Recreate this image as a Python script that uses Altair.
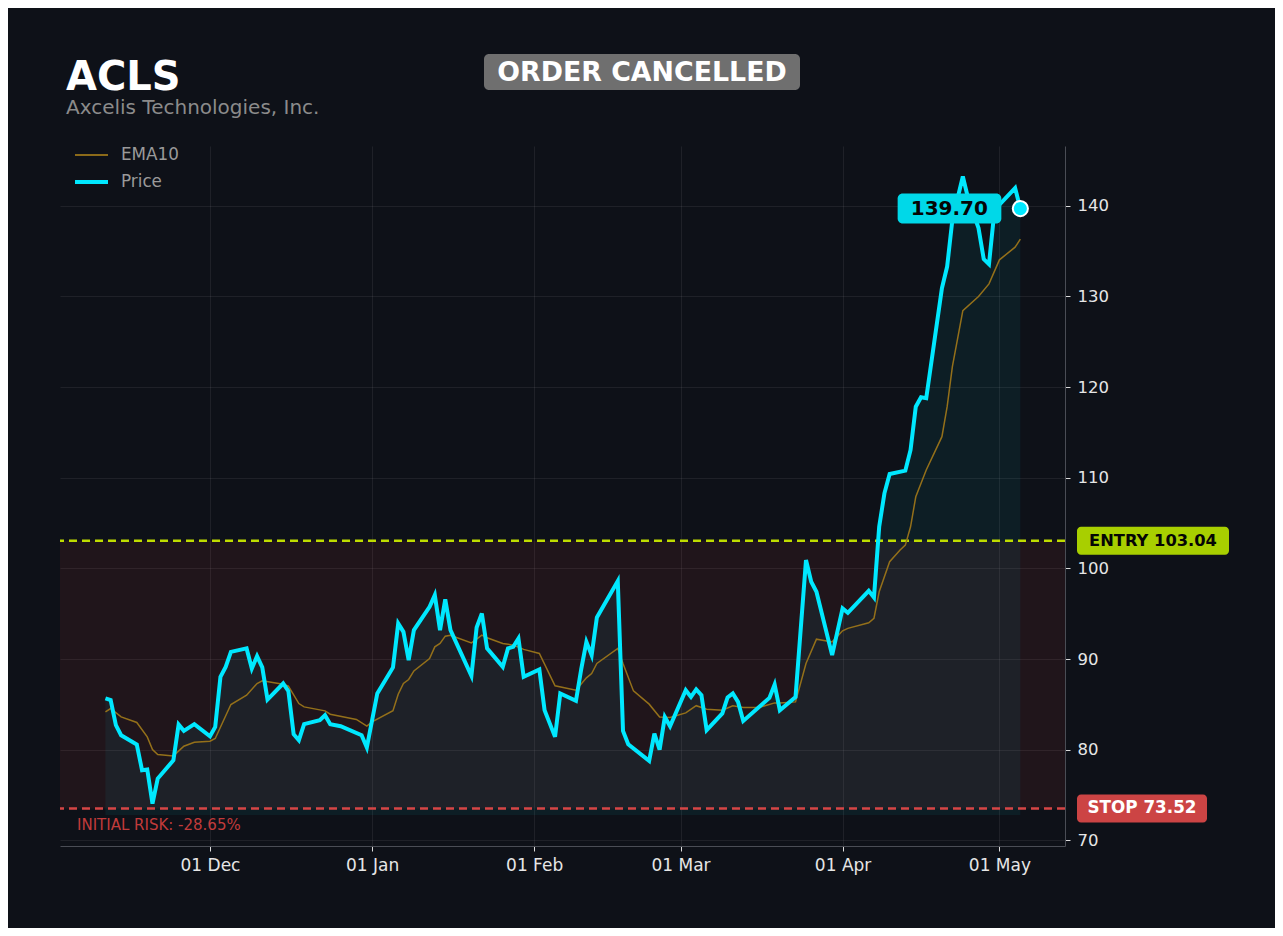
import altair as alt
import pandas as pd

# ---------------- data ----------------
TICKER = "ACLS"
COMPANY = "Axcelis Technologies, Inc."
STATUS = "ORDER CANCELLED"
ENTRY = 103.04
STOP = 73.52
AREA_FLOOR = 72.8

price_dates = [
    "2024-11-11", "2024-11-12", "2024-11-13", "2024-11-14", "2024-11-17", "2024-11-18",
    "2024-11-19", "2024-11-20", "2024-11-21", "2024-11-24", "2024-11-25", "2024-11-26",
    "2024-11-28", "2024-12-01", "2024-12-02", "2024-12-03", "2024-12-04", "2024-12-05",
    "2024-12-08", "2024-12-09", "2024-12-10", "2024-12-11", "2024-12-12", "2024-12-15",
    "2024-12-16", "2024-12-17", "2024-12-18", "2024-12-19", "2024-12-22", "2024-12-23",
    "2024-12-24", "2024-12-26", "2024-12-30", "2024-12-31", "2025-01-02", "2025-01-05",
    "2025-01-06", "2025-01-07", "2025-01-08", "2025-01-09", "2025-01-12", "2025-01-13",
    "2025-01-14", "2025-01-15", "2025-01-16", "2025-01-20", "2025-01-21", "2025-01-22",
    "2025-01-23", "2025-01-26", "2025-01-27", "2025-01-28", "2025-01-29", "2025-01-30",
    "2025-02-02", "2025-02-03", "2025-02-05", "2025-02-06", "2025-02-09", "2025-02-10",
    "2025-02-11", "2025-02-12", "2025-02-13", "2025-02-17", "2025-02-18", "2025-02-19",
    "2025-02-23", "2025-02-24", "2025-02-25", "2025-02-26", "2025-02-27", "2025-03-02",
    "2025-03-03", "2025-03-04", "2025-03-05", "2025-03-06", "2025-03-09", "2025-03-10",
    "2025-03-11", "2025-03-12", "2025-03-13", "2025-03-18", "2025-03-19", "2025-03-20",
    "2025-03-23", "2025-03-25", "2025-03-26", "2025-03-27", "2025-03-30", "2025-04-01",
    "2025-04-02", "2025-04-06", "2025-04-07", "2025-04-08", "2025-04-09", "2025-04-10",
    "2025-04-13", "2025-04-14", "2025-04-15", "2025-04-16", "2025-04-17", "2025-04-20",
    "2025-04-21", "2025-04-22", "2025-04-24", "2025-04-25", "2025-04-27", "2025-04-28",
    "2025-04-29", "2025-04-30", "2025-05-01", "2025-05-04", "2025-05-05",
]
price_values = [
    85.65, 85.46, 82.70, 81.59, 80.57, 77.73,
    77.81, 74.05, 76.81, 78.83, 82.77, 82.07,
    82.81, 81.48, 82.51, 88.03, 89.13, 90.79,
    91.17, 88.96, 90.32, 89.07, 85.53, 87.30,
    86.45, 81.70, 81.04, 82.81, 83.25, 83.80,
    82.81, 82.59, 81.59, 80.24, 86.20, 89.07,
    93.93, 93.00, 89.87, 93.19, 95.76, 97.05,
    93.19, 96.58, 93.19, 88.14, 93.48, 95.03,
    91.17, 89.13, 91.17, 91.34, 92.27, 88.03,
    88.85, 84.35, 81.41, 86.20, 85.38, 88.85,
    91.89, 90.43, 94.59, 98.60, 82.07, 80.60,
    78.76, 81.78, 80.01, 83.61, 82.59, 86.56,
    85.82, 86.64, 86.01, 82.15, 83.99, 85.76,
    86.20, 85.27, 83.17, 85.71, 87.19, 84.35,
    85.82, 100.92, 98.52, 97.42, 90.43, 95.58,
    95.10, 97.53, 96.80, 104.59, 108.28, 110.41,
    110.78, 113.06, 117.84, 118.88, 118.77, 130.91,
    133.30, 138.45, 143.24, 140.85, 137.54, 134.12,
    133.56, 139.19, 140.12, 141.96, 139.70,
]

ema_dates = [
    "2024-11-11", "2024-11-12", "2024-11-14", "2024-11-17", "2024-11-19", "2024-11-20",
    "2024-11-21", "2024-11-24", "2024-11-26", "2024-11-28", "2024-12-01", "2024-12-02",
    "2024-12-05", "2024-12-08", "2024-12-10", "2024-12-11", "2024-12-15", "2024-12-16",
    "2024-12-18", "2024-12-19", "2024-12-23", "2024-12-24", "2024-12-29", "2024-12-31",
    "2025-01-01", "2025-01-05", "2025-01-06", "2025-01-07", "2025-01-08", "2025-01-09",
    "2025-01-12", "2025-01-13", "2025-01-14", "2025-01-15", "2025-01-16", "2025-01-20",
    "2025-01-21", "2025-01-22", "2025-01-23", "2025-01-26", "2025-01-28", "2025-01-30",
    "2025-02-02", "2025-02-05", "2025-02-09", "2025-02-11", "2025-02-12", "2025-02-13",
    "2025-02-17", "2025-02-18", "2025-02-20", "2025-02-23", "2025-02-25", "2025-02-27",
    "2025-03-02", "2025-03-04", "2025-03-06", "2025-03-09", "2025-03-11", "2025-03-13",
    "2025-03-16", "2025-03-19", "2025-03-20", "2025-03-23", "2025-03-25", "2025-03-27",
    "2025-03-30", "2025-04-01", "2025-04-02", "2025-04-06", "2025-04-07", "2025-04-08",
    "2025-04-10", "2025-04-12", "2025-04-13", "2025-04-14", "2025-04-15", "2025-04-17",
    "2025-04-20", "2025-04-21", "2025-04-22", "2025-04-24", "2025-04-27", "2025-04-29",
    "2025-05-01", "2025-05-04", "2025-05-05",
]
ema_values = [
    84.17, 84.54, 83.61, 83.00, 81.41, 80.01,
    79.46, 79.31, 80.38, 80.82, 80.93, 81.23,
    84.98, 86.01, 87.30, 87.59, 87.22, 87.00,
    85.09, 84.72, 84.28, 83.91, 83.33, 82.59,
    83.06, 84.30, 86.12, 87.30, 87.74, 88.69,
    90.06, 91.34, 91.72, 92.52, 92.63, 91.78,
    92.19, 92.63, 92.34, 91.72, 91.53, 91.06,
    90.61, 87.04, 86.56, 87.92, 88.40, 89.51,
    91.17, 89.51, 86.48, 85.02, 83.61, 83.55,
    84.06, 84.85, 84.46, 84.35, 84.83, 84.65,
    84.65, 85.16, 85.16, 85.27, 89.51, 92.19,
    91.89, 93.11, 93.38, 93.99, 94.48, 97.42,
    100.73, 102.02, 102.57, 104.59, 107.90, 110.85,
    114.53, 117.84, 122.26, 128.44, 129.99, 131.39,
    134.04, 135.44, 136.32,
]

legend_labels = ["EMA10", "Price"]
y_ticks = [70, 80, 90, 100, 110, 120, 130, 140]
x_tick_dates = ["2024-12-01", "2025-01-01", "2025-02-01", "2025-03-01", "2025-04-01", "2025-05-01"]
x_domain_dates = ["2024-11-02T07:26:00Z", "2025-05-13T13:00:00Z"]
y_domain = [69.37, 146.6]

# ---------------- style ----------------
FONT = "DejaVu Sans"
BG = "#0e1118"
CYAN = "#00e8ff"
EMA_COLOR = "#94701a"
ENTRY_COLOR = "#bfdc00"
ENTRY_BADGE = "#a8cf00"
STOP_COLOR = "#d64545"
STOP_BADGE = "#cc4444"
PLOT_W, PLOT_H = 1005, 700


def ms(s):
    return int(pd.Timestamp(s, tz="UTC").value // 10**6)


price_df = pd.DataFrame({"date": price_dates, "price": price_values})
price_df["floor"] = AREA_FLOOR
ema_df = pd.DataFrame({"date": ema_dates, "ema": ema_values})
last_df = pd.DataFrame({
    "date": [price_dates[-1]],
    "price": [price_values[-1]],
    "label": [f"{price_values[-1]:.2f}"],
})
entry_df = pd.DataFrame({"level": [ENTRY], "label": [f"ENTRY {ENTRY:.2f}"]})
stop_df = pd.DataFrame({
    "level": [STOP],
    "label": [f"STOP {STOP:.2f}"],
    "risk": [f"INITIAL RISK: {(STOP - ENTRY) / ENTRY * 100:.2f}%"],
})
zone_df = pd.DataFrame({"lo": [STOP], "hi": [ENTRY]})
head_df = pd.DataFrame({"ticker": [TICKER], "company": [COMPANY], "status": [STATUS]})
leg_df = pd.DataFrame({"label": legend_labels})

x_axis = alt.Axis(
    values=[ms(d) for d in x_tick_dates], format="%d %b", title=None,
    labelFontSize=17, labelPadding=6, tickSize=5, grid=True,
)
x_scale = alt.Scale(type="utc", domain=[ms(d) for d in x_domain_dates])
x_enc = alt.X("date:T", scale=x_scale, axis=x_axis)

y_axis = alt.Axis(orient="right", values=y_ticks, title=None,
                  labelFontSize=16.5, labelPadding=7, tickSize=5, grid=True)
y_scale = alt.Scale(domain=y_domain, nice=False, zero=False)


def y_enc(field):
    return alt.Y(f"{field}:Q", scale=y_scale, axis=y_axis)


zone = alt.Chart(zone_df).mark_rect(color="#e04040", opacity=0.09).encode(
    x=alt.value(0), x2=alt.value(PLOT_W), y=y_enc("hi"), y2="lo:Q"
)
area = alt.Chart(price_df).mark_area(color=CYAN, opacity=0.06).encode(
    x=x_enc, y=y_enc("price"), y2="floor:Q"
)
entry_line = alt.Chart(entry_df).mark_rule(
    color=ENTRY_COLOR, strokeWidth=2.5, strokeDash=[8, 5]
).encode(y=y_enc("level"))
stop_line = alt.Chart(stop_df).mark_rule(
    color=STOP_COLOR, strokeWidth=2.5, strokeDash=[8, 5]
).encode(y=y_enc("level"))
ema_line = alt.Chart(ema_df).mark_line(color=EMA_COLOR, strokeWidth=1.5).encode(
    x=x_enc, y=y_enc("ema")
)
price_line = alt.Chart(price_df).mark_line(color=CYAN, strokeWidth=4).encode(
    x=x_enc, y=y_enc("price")
)
end_dot = alt.Chart(last_df).mark_circle(
    size=230, fill=CYAN, stroke="white", strokeWidth=2, opacity=1
).encode(x=x_enc, y=y_enc("price"))
price_badge = alt.Chart(last_df).mark_rect(
    fill="#00d8e8", cornerRadius=5, xOffset=-122.7, x2Offset=-19, yOffset=-15, y2Offset=15
).encode(x=x_enc, x2="date:T", y=y_enc("price"), y2="price:Q")
price_text = alt.Chart(last_df).mark_text(
    font=FONT, fontSize=20, fontWeight="bold", color="#050505", dx=-71,
    align="center", baseline="middle"
).encode(x=x_enc, y=y_enc("price"), text="label:N")

entry_badge = alt.Chart(entry_df).mark_rect(
    fill=ENTRY_BADGE, cornerRadius=4, yOffset=-14, y2Offset=14
).encode(x=alt.value(1017), x2=alt.value(1169), y=y_enc("level"), y2="level:Q")
entry_text = alt.Chart(entry_df).mark_text(
    font=FONT, fontSize=16.3, fontWeight="bold", color="#050505",
    align="center", baseline="middle"
).encode(x=alt.value(1093), y=y_enc("level"), text="label:N")
stop_badge = alt.Chart(stop_df).mark_rect(
    fill=STOP_BADGE, cornerRadius=4, yOffset=-14, y2Offset=14
).encode(x=alt.value(1017), x2=alt.value(1147), y=y_enc("level"), y2="level:Q")
stop_text = alt.Chart(stop_df).mark_text(
    font=FONT, fontSize=16.8, fontWeight="bold", color="white",
    align="center", baseline="middle"
).encode(x=alt.value(1082), y=y_enc("level"), text="label:N")
risk_text = alt.Chart(stop_df).mark_text(
    font=FONT, fontSize=15, color="#c13b3b", align="left", baseline="middle", dy=17
).encode(x=alt.value(17), y=y_enc("level"), text="risk:N")

title_text = alt.Chart(head_df).mark_text(
    font=FONT, fontSize=40, fontWeight="bold", color="white",
    align="left", baseline="alphabetic"
).encode(x=alt.value(6), y=alt.value(-56), text="ticker:N")
sub_text = alt.Chart(head_df).mark_text(
    font=FONT, fontSize=20, color="#8b8b8b", align="left", baseline="alphabetic"
).encode(x=alt.value(6), y=alt.value(-32), text="company:N")
status_badge = alt.Chart(head_df).mark_rect(fill="#6f6f6f", cornerRadius=5).encode(
    x=alt.value(424), x2=alt.value(740), y=alt.value(-92), y2=alt.value(-56)
)
status_text = alt.Chart(head_df).mark_text(
    font=FONT, fontSize=26.8, fontWeight="bold", color="white",
    align="center", baseline="alphabetic"
).encode(x=alt.value(582), y=alt.value(-65), text="status:N")

leg_ema = alt.Chart(leg_df).mark_rule(color=EMA_COLOR, strokeWidth=1.5).encode(
    x=alt.value(15), x2=alt.value(48), y=alt.value(9)
)
leg_price = alt.Chart(leg_df).mark_rule(color=CYAN, strokeWidth=4).encode(
    x=alt.value(15), x2=alt.value(48), y=alt.value(36)
)
leg_text1 = alt.Chart(leg_df).transform_filter(alt.datum.label == legend_labels[0]).mark_text(
    font=FONT, fontSize=16.8, color="#9a9a9a", align="left", baseline="middle"
).encode(x=alt.value(61), y=alt.value(9), text="label:N")
leg_text2 = alt.Chart(leg_df).transform_filter(alt.datum.label == legend_labels[1]).mark_text(
    font=FONT, fontSize=16.8, color="#9a9a9a", align="left", baseline="middle"
).encode(x=alt.value(61), y=alt.value(36), text="label:N")

chart = alt.layer(
    zone, area, entry_line, stop_line, ema_line, price_line, end_dot,
    price_badge, price_text, entry_badge, entry_text, stop_badge, stop_text, risk_text,
    title_text, sub_text, status_badge, status_text,
    leg_ema, leg_price, leg_text1, leg_text2,
).properties(
    width=PLOT_W, height=PLOT_H,
    autosize=alt.AutoSizeParams(type="none"),
    padding={"left": 52, "top": 138, "right": 210, "bottom": 82},
    background=BG,
).configure_view(
    stroke=None
).configure_axis(
    labelFont=FONT, labelColor="#e6e6e6", tickColor="#dddddd",
    domainColor="#4a4d55", gridColor="#ffffff", gridOpacity=0.07,
)

chart.save("out.html", embed_options={"renderer": "svg", "actions": False})
